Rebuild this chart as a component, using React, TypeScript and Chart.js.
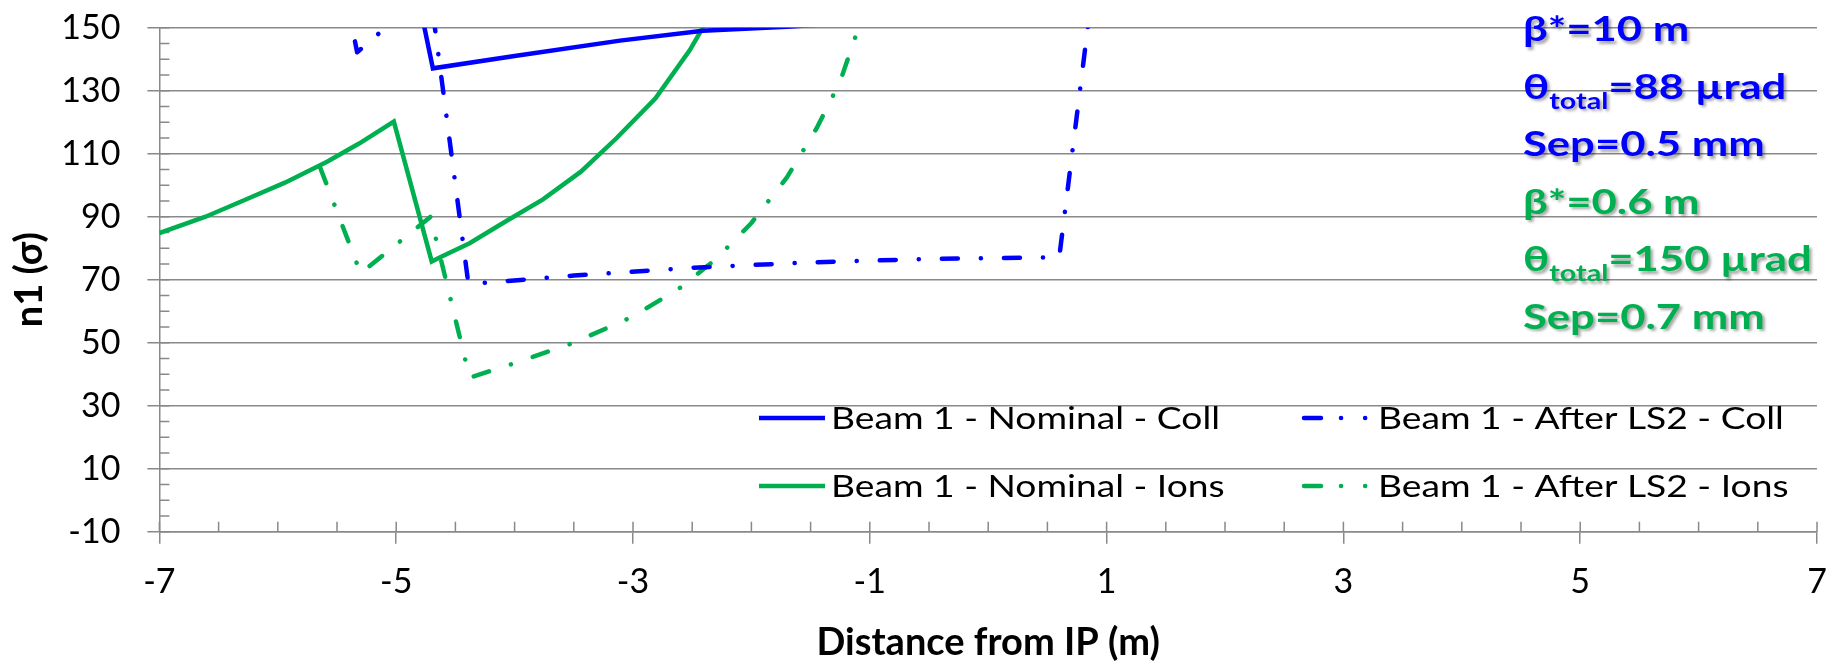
import React, { useEffect, useRef } from 'react';
import { Chart, registerables } from 'chart.js';

Chart.register(...registerables);

// ---- Data ----
const nominalCollX = [-4.85, -4.69, -4.0, -3.11, -2.41, -1.7, -1.0];
const nominalCollY = [166, 137.1, 141, 145.9, 149, 150.3, 152];

const afterLS2CollX = [-5.45, -5.33, -5.09, -4.75, -4.39, -3.5, -2.5, -1.5, -0.5, 0.6, 0.9];
const afterLS2CollY = [165, 142.2, 150, 172, 68.6, 71.3, 73.8, 75.5, 76.6, 77.1, 168];

const nominalIonsX = [-7, -6.61, -6.28, -5.94, -5.58, -5.31, -5.02, -4.7, -4.62, -4.38, -4.08, -3.76, -3.44, -3.14, -2.81, -2.52, -2.41, -2.2];
const nominalIonsY = [84.8, 90, 95.3, 100.8, 107.5, 113.3, 120.2, 75.8, 77.3, 81.6, 88.4, 95.5, 104.3, 114.9, 127.6, 142.9, 150, 164];

const afterLS2IonsX = [-5.64, -5.3, -4.71, -4.38, -4.0, -3.5, -3.0, -2.6, -2.3, -2.0, -1.7, -1.45, -1.25, -1.1, -1.0];
const afterLS2IonsY = [105.4, 72.0, 90.0, 38.9, 43.5, 50.0, 58.3, 67.5, 76.5, 88.0, 102.5, 118.0, 133.0, 149.5, 162.0];

const seriesLabels = [
  'Beam 1 - Nominal - Coll',
  'Beam 1 - After LS2 - Coll',
  'Beam 1 - Nominal - Ions',
  'Beam 1 - After LS2 - Ions',
];

const xTickValues = [-7, -5, -3, -1, 1, 3, 5, 7];
const yTickValues = [-10, 10, 30, 50, 70, 90, 110, 130, 150];
const xMinorStep = 0.5;
const yMinorStep = 5;

const xTitle = 'Distance from IP (m)';
const yTitle = 'n1 (σ)';

const collParams = [
  { text: 'β*=10 m' },
  { text: 'θ', sub: 'total', rest: '=88 µrad' },
  { text: 'Sep=0.5 mm' },
];
const ionsParams = [
  { text: 'β*=0.6 m' },
  { text: 'θ', sub: 'total', rest: '=150 µrad' },
  { text: 'Sep=0.7 mm' },
];

// ---- Styles ----
const BLUE = '#0000FF';
const GREEN = '#00B050';
const GRID = '#898989';
const FONT = 'Lato, "DejaVu Sans", sans-serif';
const DASH_DOT = [16, 23, 0.1, 23];
const LEGEND_DASH = [17, 20, 0.1, 24, 0.1, 200];

const toPoints = (xs: number[], ys: number[]) => xs.map((x, i) => ({ x, y: ys[i] }));

function drawStretched(ctx: CanvasRenderingContext2D, text: string, x: number, y: number, sx: number) {
  ctx.save();
  ctx.translate(x, y);
  ctx.scale(sx, 1);
  ctx.fillText(text, 0, 0);
  ctx.restore();
  return ctx.measureText(text).width * sx;
}

const overlayPlugin = {
  id: 'overlay',
  beforeDatasetsDraw(chart: any) {
    const ctx: CanvasRenderingContext2D = chart.ctx;
    const { left, bottom } = chart.chartArea;
    const xs = chart.scales.x;
    const ys = chart.scales.y;
    ctx.save();
    ctx.strokeStyle = GRID;
    ctx.lineWidth = 1.5;
    ctx.beginPath();
    for (let v = ys.min; v <= ys.max + 1e-9; v += yMinorStep) {
      const py = ys.getPixelForValue(v);
      ctx.moveTo(left, py);
      ctx.lineTo(left + 10, py);
    }
    for (let v = xs.min; v <= xs.max + 1e-9; v += xMinorStep) {
      const px = xs.getPixelForValue(v);
      ctx.moveTo(px, bottom);
      ctx.lineTo(px, bottom - 10);
    }
    ctx.stroke();
    ctx.restore();
  },
  afterDraw(chart: any) {
    const ctx: CanvasRenderingContext2D = chart.ctx;
    const area = chart.chartArea;
    ctx.save();
    // Axis titles
    ctx.fillStyle = '#000';
    ctx.font = `bold 38px ${FONT}`;
    ctx.textAlign = 'center';
    ctx.textBaseline = 'middle';
    ctx.fillText(xTitle, (area.left + area.right) / 2, 643);
    ctx.save();
    ctx.translate(30, (area.top + area.bottom) / 2);
    ctx.rotate(-Math.PI / 2);
    ctx.fillText(yTitle, 0, 0);
    ctx.restore();

    // Legend
    ctx.font = `30px ${FONT}`;
    ctx.textAlign = 'left';
    ctx.textBaseline = 'middle';
    const legendScale = 389 / ctx.measureText(seriesLabels[0]).width;
    const cols = [
      { x0: 759, x1: 825, tx: 831 },
      { x0: 1304, x1: 1368, tx: 1378 },
    ];
    const rows = [418, 486];
    chart.data.datasets.forEach((ds: any, i: number) => {
      const c = cols[i % 2];
      const ry = rows[Math.floor(i / 2)];
      ctx.save();
      ctx.strokeStyle = ds.borderColor;
      ctx.lineWidth = 4.5;
      const dashed = ds.borderDash && ds.borderDash.length > 0;
      ctx.setLineDash(dashed ? LEGEND_DASH : []);
      ctx.lineCap = dashed ? 'round' : 'butt';
      ctx.beginPath();
      ctx.moveTo(c.x0, ry);
      ctx.lineTo(c.x1, ry);
      ctx.stroke();
      ctx.restore();
      ctx.fillStyle = '#000';
      drawStretched(ctx, ds.label, c.tx, ry + 1, legendScale);
    });

    // Parameter annotations
    ctx.font = `bold 35px ${FONT}`;
    ctx.textBaseline = 'alphabetic';
    const annScale = 241.7 / ctx.measureText('Sep=0.5 mm').width;
    const baselines = [41, 98.5, 156, 213.5, 271, 328.5];
    const groups = [
      { items: collParams, color: BLUE },
      { items: ionsParams, color: GREEN },
    ];
    let li = 0;
    groups.forEach((g) => {
      g.items.forEach((it: any) => {
        const by = baselines[li++];
        ctx.save();
        ctx.fillStyle = g.color;
        ctx.shadowColor = 'rgba(0,0,0,0.35)';
        ctx.shadowOffsetX = 2.5;
        ctx.shadowOffsetY = 2.5;
        ctx.shadowBlur = 3;
        let x = 1523;
        ctx.font = `bold 35px ${FONT}`;
        x += drawStretched(ctx, it.text, x, by, annScale);
        if (it.sub) {
          ctx.font = `bold 23px ${FONT}`;
          x += drawStretched(ctx, it.sub, x, by + 10, annScale);
          ctx.font = `bold 35px ${FONT}`;
          drawStretched(ctx, it.rest, x, by, annScale);
        }
        ctx.restore();
      });
    });
    ctx.restore();
  },
};

export default function App() {
  const ref = useRef<HTMLCanvasElement>(null);
  useEffect(() => {
    const canvas = ref.current!;
    const chart = new Chart(canvas, {
      type: 'line',
      data: {
        datasets: [
          {
            label: seriesLabels[0],
            data: toPoints(nominalCollX, nominalCollY),
            borderColor: BLUE,
            borderWidth: 4.5,
            borderDash: [],
            borderJoinStyle: 'miter',
          },
          {
            label: seriesLabels[1],
            data: toPoints(afterLS2CollX, afterLS2CollY),
            borderColor: BLUE,
            borderWidth: 4.5,
            borderDash: DASH_DOT,
            borderCapStyle: 'round',
            borderJoinStyle: 'round',
          },
          {
            label: seriesLabels[2],
            data: toPoints(nominalIonsX, nominalIonsY),
            borderColor: GREEN,
            borderWidth: 4.5,
            borderDash: [],
            borderJoinStyle: 'miter',
          },
          {
            label: seriesLabels[3],
            data: toPoints(afterLS2IonsX, afterLS2IonsY),
            borderColor: GREEN,
            borderWidth: 4.5,
            borderDash: DASH_DOT,
            borderCapStyle: 'round',
            borderJoinStyle: 'round',
          },
        ] as any,
      },
      options: {
        responsive: false,
        devicePixelRatio: 1,
        animation: false,
        elements: { point: { radius: 0, hoverRadius: 0 }, line: { tension: 0, fill: false } },
        layout: { padding: { top: 27.7, right: 24, left: 0, bottom: 0 } },
        plugins: { legend: { display: false }, tooltip: { enabled: false }, title: { display: false } },
        scales: {
          x: {
            type: 'linear',
            min: -7,
            max: 7,
            afterBuildTicks: (s: any) => {
              s.ticks = xTickValues.map((v) => ({ value: v }));
            },
            afterFit: (s: any) => {
              s.height = 136.3;
              s.paddingLeft = 0;
              s.paddingRight = 0;
            },
            grid: { display: true, drawOnChartArea: false, drawTicks: true, tickLength: 12, color: GRID, lineWidth: 1.5 },
            border: { display: true, color: GRID, width: 1.5 },
            ticks: { font: { family: FONT, size: 34 }, color: '#000', padding: 18, maxRotation: 0, autoSkip: false },
          },
          y: {
            type: 'linear',
            min: -10,
            max: 150,
            afterBuildTicks: (s: any) => {
              s.ticks = yTickValues.map((v) => ({ value: v }));
            },
            afterFit: (s: any) => {
              s.width = 159.4;
              s.paddingTop = 0;
              s.paddingBottom = 0;
            },
            grid: { display: true, drawTicks: true, tickLength: 12, color: GRID, lineWidth: 1.5 },
            border: { display: true, color: GRID, width: 1.5 },
            ticks: { font: { family: FONT, size: 34 }, color: '#000', padding: 27, autoSkip: false },
          },
        },
      } as any,
      plugins: [overlayPlugin],
    });
    return () => chart.destroy();
  }, []);
  return (
    <div style={{ position: 'fixed', left: 0, top: 0, width: 1841, height: 668, background: '#fff' }}>
      <canvas ref={ref} width={1841} height={668} style={{ display: 'block', width: 1841, height: 668 }} />
    </div>
  );
}
